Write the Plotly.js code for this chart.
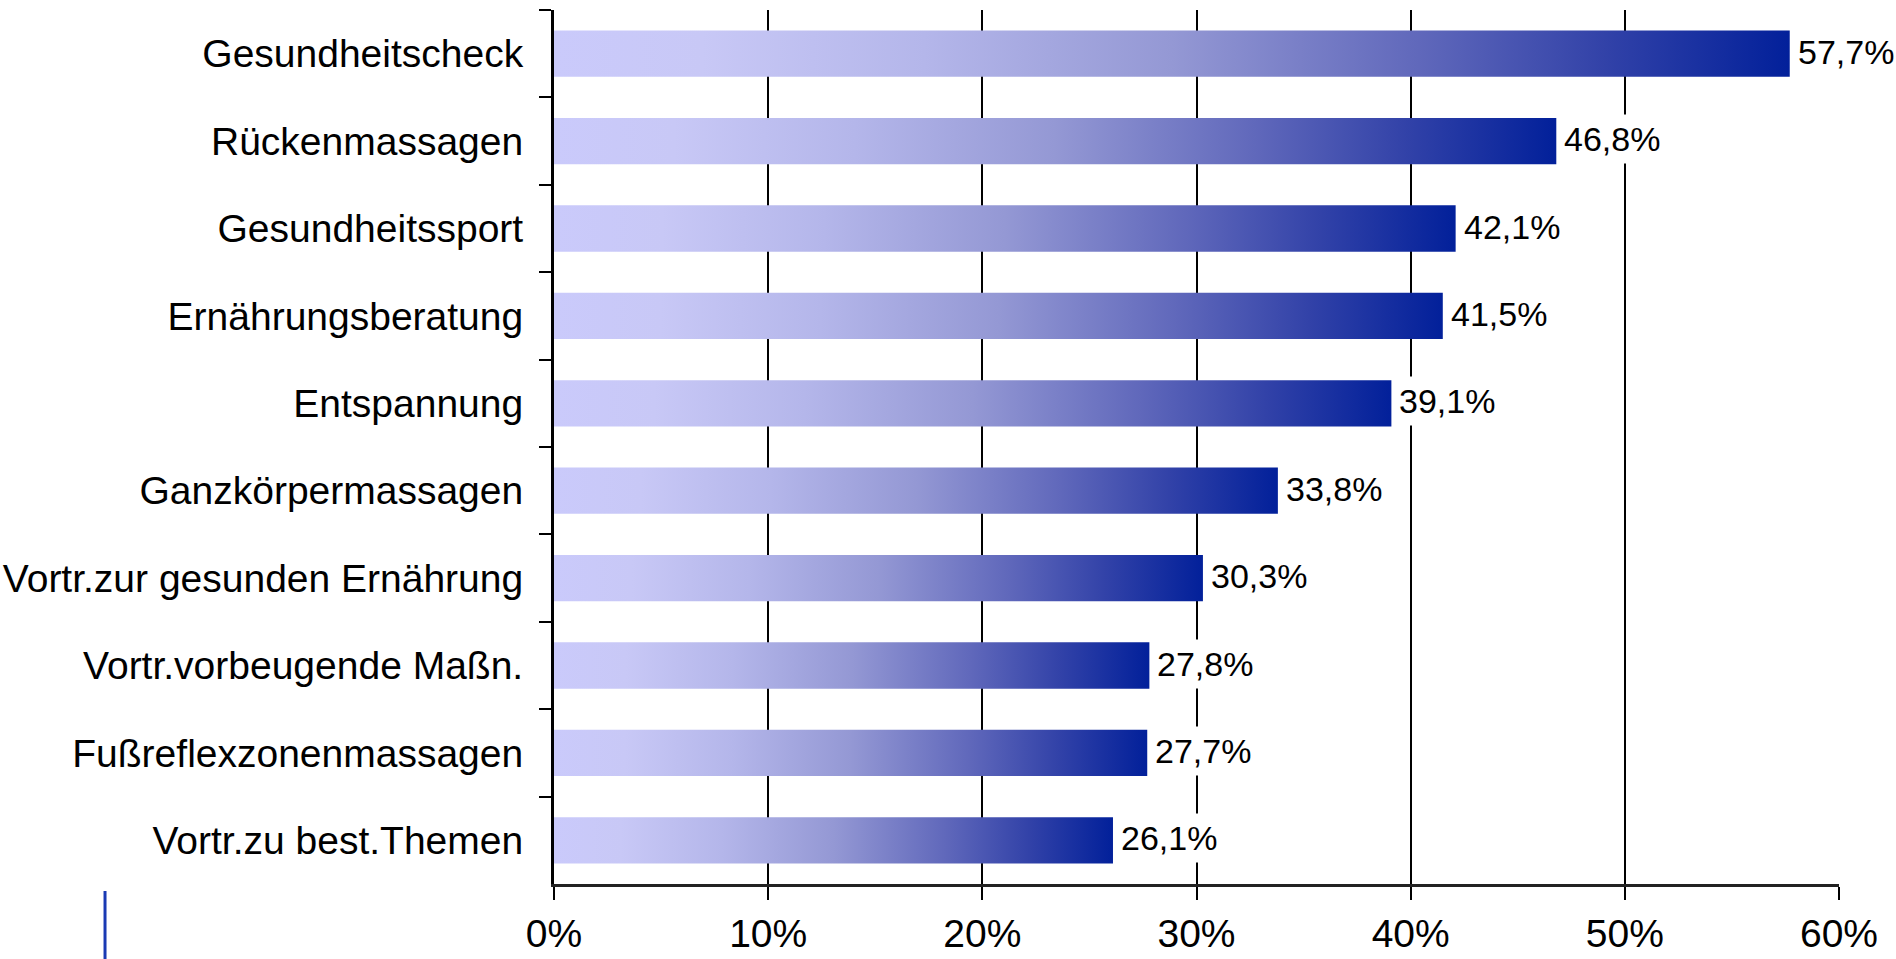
<!DOCTYPE html>
<html>
<head>
<meta charset="utf-8">
<script src="https://cdn.plot.ly/plotly-3.0.1.min.js"></script>
<style>
  html, body { margin: 0; padding: 0; background: #fff; }
  #chart { width: 1896px; height: 959px; }
</style>
</head>
<body>
<div id="chart"></div>
<script>
// Categories (top to bottom) and values in percent
const categories = [
  "Gesundheitscheck",
  "Rückenmassagen",
  "Gesundheitssport",
  "Ernährungsberatung",
  "Entspannung",
  "Ganzkörpermassagen",
  "Vortr.zur gesunden Ernährung",
  "Vortr.vorbeugende Maßn.",
  "Fußreflexzonenmassagen",
  "Vortr.zu best.Themen"
];
const values = [57.7, 46.8, 42.1, 41.5, 39.1, 33.8, 30.3, 27.8, 27.7, 26.1];
const xTickValues = [0, 10, 20, 30, 40, 50, 60];
const xTickLabels = ["0%", "10%", "20%", "30%", "40%", "50%", "60%"];

const FONT = "'Liberation Sans', Arial, sans-serif";

const trace = {
  type: "bar",
  orientation: "h",
  x: values,
  y: categories,
  width: 0.53,
  marker: { color: "#7a80c8", line: { width: 0 } },
  hoverinfo: "none"
};

const annotations = values.map((v, i) => ({
  x: v,
  y: categories[i],
  xref: "x",
  yref: "y",
  text: v.toFixed(1).replace(".", ",") + "%",
  showarrow: false,
  xanchor: "left",
  yanchor: "middle",
  xshift: 2,
  yshift: 2,
  bgcolor: "#ffffff",
  borderpad: 5,
  font: { family: FONT, size: 34, color: "#000" }
}));

const layout = {
  width: 1896,
  height: 959,
  margin: { l: 554, r: 57, t: 10, b: 75 },
  paper_bgcolor: "#ffffff",
  plot_bgcolor: "#ffffff",
  showlegend: false,
  font: { family: FONT, color: "#000" },
  xaxis: {
    range: [0, 60],
    tickvals: xTickValues,
    ticktext: xTickLabels,
    showgrid: true,
    gridcolor: "#000",
    gridwidth: 2,
    zeroline: false,
    showline: true,
    linecolor: "#222",
    linewidth: 3,
    ticks: "outside",
    ticklen: 13,
    tickwidth: 2,
    tickcolor: "#000",
    ticklabelstandoff: 0,
    tickfont: { family: FONT, size: 39, color: "#000" },
    fixedrange: true
  },
  yaxis: {
    type: "category",
    autorange: "reversed",
    showgrid: false,
    zeroline: false,
    showline: true,
    linecolor: "#000",
    linewidth: 3,
    ticks: "outside",
    tickson: "boundaries",
    ticklen: 12,
    tickwidth: 2,
    tickcolor: "#000",
    ticklabelstandoff: 20,
    tickfont: { family: FONT, size: 39, color: "#000" },
    fixedrange: true
  },
  annotations: annotations,
  shapes: [{
    type: "line",
    xref: "paper", yref: "paper",
    x0: -0.3494, x1: -0.3494,
    y0: -0.008, y1: -0.09,
    line: { color: "#1a3ab4", width: 3 }
  }]
};

Plotly.newPlot("chart", [trace], layout, { staticPlot: true, displayModeBar: false }).then(gd => {
  const svg = gd.querySelector(".main-svg");
  const ns = "http://www.w3.org/2000/svg";
  let defs = svg.querySelector("defs");
  if (!defs) { defs = document.createElementNS(ns, "defs"); svg.insertBefore(defs, svg.firstChild); }
  const grad = document.createElementNS(ns, "linearGradient");
  grad.setAttribute("id", "barGrad");
  grad.setAttribute("x1", "0"); grad.setAttribute("y1", "0");
  grad.setAttribute("x2", "1"); grad.setAttribute("y2", "0");
  const stops = [
    [0, "#cacafb"], [0.12, "#c8c8f6"], [0.3, "#b4b6ea"], [0.5, "#9498d4"],
    [0.7, "#6068bb"], [0.85, "#3242a8"], [1, "#02209a"]
  ];
  stops.forEach(([o, c]) => {
    const s = document.createElementNS(ns, "stop");
    s.setAttribute("offset", o);
    s.setAttribute("stop-color", c);
    grad.appendChild(s);
  });
  defs.appendChild(grad);
  gd.querySelectorAll(".barlayer .point path").forEach(p => {
    p.style.fill = "url(#barGrad)";
  });
});
</script>
</body>
</html>
